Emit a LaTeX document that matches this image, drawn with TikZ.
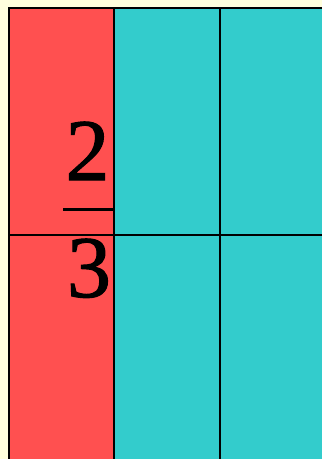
\documentclass[tikz,border=0pt]{standalone}
\usepackage{fontspec}
\setmainfont{Liberation Serif}
\newfontfamily\digitfont[FakeBold=1.2]{Liberation Serif}
\definecolor{bgc}{HTML}{FFFFDD}
\definecolor{redc}{HTML}{FF5050}
\definecolor{tealc}{HTML}{33CCCC}
\tikzset{
  gridline/.style={line width=1.6pt, black},
  digit/.style={inner sep=0pt, anchor=base, font=\digitfont\fontsize{88}{88}\selectfont}
}
\begin{document}
\begin{tikzpicture}[x=1pt,y=-1pt]
\useasboundingbox (0,0) rectangle (322,459);
\fill[bgc] (0,0) rectangle (322,459);
\fill[redc] (9,8) rectangle (114,459);
\fill[tealc] (114,8) rectangle (322,459);
\draw[line width=2pt] (9,470) -- (9,8) -- (330,8);
\draw[gridline] (114,8) -- (114,470);
\draw[gridline] (220,8) -- (220,470);
\draw[gridline] (9,235) -- (330,235);
\coordinate (barL) at (63,209.5);
\coordinate (barR) at (114,209.5);
\draw[line width=2.2pt] (barL) -- (barR);
\node[digit] (num) at (87.5,180) {2};
\node[digit] (den) at (89,297) {3};
\end{tikzpicture}
\end{document}
